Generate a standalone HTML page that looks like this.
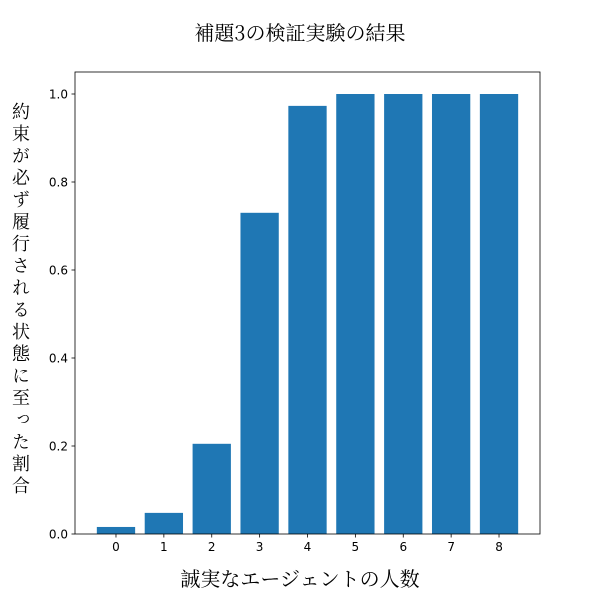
<!DOCTYPE html>
<html><head><meta charset="utf-8"><style>
body{margin:0;background:#fff;}
svg text{font-family:"DejaVu Sans","Liberation Sans",sans-serif;}
.cjk{font-family:"Noto Serif CJK SC","Noto Serif CJK JP",serif;}
</style></head><body>
<svg id="chart" width="600" height="600" xmlns="http://www.w3.org/2000/svg">
<rect width="600" height="600" fill="#fff"/>
<text class="cjk" x="300" y="40" text-anchor="middle" font-size="20" fill="#000">補題3の検証実験の結果</text>
<text class="cjk" x="300" y="586" text-anchor="middle" font-size="20" fill="#000">誠実なエージェントの人数</text>
<text class="cjk" x="21" y="300" text-anchor="middle" font-size="18" fill="#000" style="writing-mode:vertical-rl;text-orientation:upright;letter-spacing:4px">約束が必ず履行される状態に至った割合</text>
<g id="bars"></g>
<g id="axes"></g>
</svg>
<script>
const categories = [0,1,2,3,4,5,6,7,8];
const values = [0.016,0.048,0.205,0.73,0.973,1.0,1.0,1.0,1.0];
const yTicks = [0.0,0.2,0.4,0.6,0.8,1.0];
const yTickLabels = ["0.0","0.2","0.4","0.6","0.8","1.0"];
const L=75,R=540,T=72,B=534;
const xMin=-0.856,xMax=8.856,yMin=0,yMax=1.05;
const xs=v=>L+(v-xMin)/(xMax-xMin)*(R-L);
const ys=v=>B-(v-yMin)/(yMax-yMin)*(B-T);
const NS="http://www.w3.org/2000/svg";
const bars=document.getElementById('bars'),axes=document.getElementById('axes');
function mk(tag,attrs,parent){const e=document.createElementNS(NS,tag);for(const k in attrs)e.setAttribute(k,attrs[k]);parent.appendChild(e);return e;}
categories.forEach((c,i)=>{
  const x0=xs(c-0.4),x1=xs(c+0.4);
  const r=mk('rect',{x:x0,y:ys(values[i]),width:x1-x0,height:ys(0)-ys(values[i]),fill:'#1f77b4'},bars);
  
  
  const t=mk('line',{x1:xs(c),x2:xs(c),y1:B,y2:B+3.5,stroke:'#000','stroke-width':0.8},axes);
  
  
  const l=mk('text',{x:xs(c),y:B+17,'text-anchor':'middle','font-size':12},axes);
  l.textContent=c;
  
  
});
yTicks.forEach((v,i)=>{
  const t=mk('line',{x1:L-3.5,x2:L,y1:ys(v),y2:ys(v),stroke:'#000','stroke-width':0.8},axes);
  
  
  const l=mk('text',{x:L-7,y:ys(v)+4.5,'text-anchor':'end','font-size':12},axes);
  l.textContent=yTickLabels[i];
  
  
});
const f=mk('rect',{x:L,y:T,width:R-L,height:B-T,fill:'none',stroke:'#000','stroke-width':0.8},axes);


</script>
</body></html>
